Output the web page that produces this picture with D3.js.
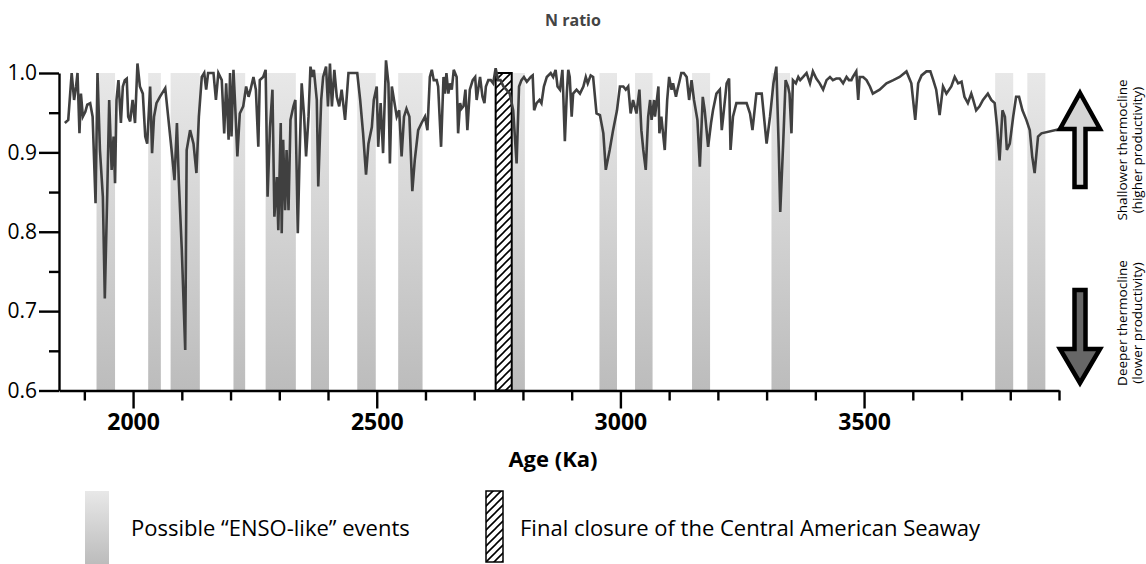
<!DOCTYPE html>
<html>
<head>
<meta charset="utf-8">
<script src="https://cdn.jsdelivr.net/npm/d3@7"></script>
<style>
  body { margin: 0; background: #fff; }
  svg { display: block; font-family: "Open Sans", sans-serif; }
</style>
</head>
<body>
<div id="chart"></div>
<script>
// N ratio record, [age (ka), ratio]
const nRatio = [
  [1860,0.937],[1867,0.941],[1874,1.000],[1879,0.966],[1883,0.983],[1886,1.000],[1890,0.924],[1893,0.974],
  [1897,0.945],[1902,0.951],[1906,0.960],[1912,0.962],[1917,0.945],[1923,0.836],[1927,1.000],[1932,0.903],
  [1938,0.844],[1942,0.716],[1947,0.848],[1951,0.966],[1956,0.878],[1960,0.920],[1963,0.861],[1966,0.966],
  [1970,0.991],[1975,0.937],[1979,0.983],[1983,0.991],[1987,0.993],[1990,0.945],[1994,0.939],[1999,0.966],
  [2004,0.937],[2009,1.012],[2014,0.983],[2020,0.974],[2025,0.920],[2029,0.911],[2035,0.983],[2039,0.899],
  [2043,0.945],[2048,0.962],[2055,0.970],[2066,0.981],[2072,0.945],[2079,0.903],[2085,0.865],[2090,0.937],
  [2094,0.861],[2100,0.777],[2107,0.651],[2110,0.903],[2117,0.928],[2124,0.911],[2130,0.874],[2135,0.945],
  [2141,0.995],[2146,1.000],[2150,0.979],[2154,1.000],[2165,1.000],[2170,0.966],[2175,1.000],[2182,0.991],
  [2187,0.924],[2191,0.987],[2196,0.916],[2199,1.000],[2202,0.920],[2206,1.004],[2209,0.966],[2214,0.895],
  [2219,0.949],[2226,0.958],[2232,0.983],[2237,0.970],[2241,0.979],[2247,0.995],[2252,0.979],[2257,0.907],
  [2260,0.991],[2267,0.995],[2272,1.004],[2276,0.844],[2281,0.932],[2286,0.979],[2290,0.819],[2295,0.869],
  [2298,0.802],[2303,0.937],[2305,0.798],[2308,0.916],[2312,0.827],[2315,0.903],[2319,0.827],[2323,0.941],
  [2329,0.958],[2333,0.966],[2338,0.798],[2342,0.903],[2346,0.987],[2351,0.945],[2355,0.895],[2360,0.945],
  [2364,1.008],[2368,0.995],[2371,1.004],[2377,0.966],[2380,0.857],[2386,0.966],[2390,0.995],[2396,1.008],
  [2400,0.958],[2404,1.012],[2408,0.958],[2413,1.004],[2418,0.970],[2423,0.958],[2428,0.979],[2435,0.941],
  [2442,1.000],[2460,1.000],[2466,0.966],[2472,0.924],[2478,0.872],[2483,0.911],[2490,0.932],[2494,0.966],
  [2500,0.983],[2503,0.907],[2508,0.962],[2513,0.899],[2519,1.016],[2524,0.987],[2527,0.886],[2531,0.983],
  [2541,0.945],[2546,0.953],[2551,0.895],[2556,0.945],[2561,0.955],[2567,0.945],[2573,0.851],[2578,0.890],
  [2585,0.928],[2592,0.937],[2599,0.945],[2604,0.928],[2609,0.995],[2613,1.004],[2617,0.991],[2623,0.991],
  [2626,0.983],[2632,0.907],[2637,0.995],[2640,0.974],[2643,1.000],[2647,0.974],[2650,0.987],[2654,0.979],
  [2658,1.004],[2664,0.995],[2667,0.924],[2671,0.962],[2674,0.955],[2678,0.958],[2682,0.979],[2686,0.928],
  [2691,0.979],[2697,0.991],[2702,0.995],[2705,0.966],[2709,0.983],[2712,0.995],[2717,0.970],[2721,0.962],
  [2724,0.983],[2729,0.991],[2734,0.991],[2739,0.987],[2744,1.006],[2749,0.991],[2754,0.991],[2760,0.983],
  [2766,0.979],[2773,0.974],[2780,0.953],[2787,0.886],[2792,0.983],[2797,0.991],[2802,0.995],[2808,0.989],
  [2816,0.995],[2820,0.997],[2823,0.953],[2828,0.962],[2834,0.966],[2838,0.962],[2843,0.983],[2849,0.995],
  [2857,1.000],[2862,0.995],[2867,1.004],[2871,0.983],[2876,0.979],[2881,1.004],[2886,0.914],[2890,0.974],
  [2893,1.004],[2896,0.995],[2900,0.945],[2903,0.974],[2910,0.979],[2917,0.974],[2924,0.983],[2929,0.995],
  [2933,0.987],[2939,0.997],[2944,0.995],[2951,0.949],[2958,0.947],[2965,0.924],[2970,0.878],[2978,0.903],
  [2985,0.928],[2993,0.953],[2999,0.983],[3006,0.983],[3011,0.979],[3016,0.983],[3021,0.949],[3026,0.966],
  [3033,0.949],[3039,0.979],[3043,0.928],[3047,0.903],[3052,0.878],[3057,0.945],[3061,0.966],[3064,0.941],
  [3069,0.966],[3071,0.945],[3078,0.983],[3080,0.924],[3084,0.945],[3091,0.903],[3096,0.966],[3100,0.995],
  [3105,0.979],[3108,0.987],[3114,0.970],[3117,0.979],[3121,0.989],[3125,1.000],[3130,1.000],[3136,0.995],
  [3141,0.966],[3146,0.991],[3151,0.966],[3158,0.941],[3163,0.882],[3169,0.970],[3173,0.953],[3180,0.907],
  [3186,0.937],[3190,0.953],[3197,0.974],[3204,0.979],[3208,0.928],[3211,0.945],[3218,0.987],[3223,0.993],
  [3226,0.903],[3231,0.945],[3238,0.962],[3245,0.962],[3252,0.962],[3259,0.962],[3266,0.949],[3271,0.928],
  [3279,0.974],[3290,0.974],[3300,0.911],[3307,0.945],[3314,0.987],[3320,1.008],[3325,0.903],[3328,0.825],
  [3334,0.911],[3339,0.991],[3344,0.983],[3347,0.974],[3351,0.924],[3354,0.991],[3360,0.987],[3365,0.995],
  [3369,0.991],[3375,0.995],[3382,1.000],[3389,0.987],[3395,1.002],[3402,0.993],[3409,0.987],[3416,0.979],
  [3423,0.991],[3430,0.995],[3436,0.991],[3443,0.993],[3450,0.993],[3457,0.987],[3464,0.995],[3469,0.991],
  [3474,0.991],[3477,0.995],[3484,1.002],[3488,0.966],[3491,0.995],[3498,0.995],[3505,0.991],[3512,0.983],
  [3518,0.974],[3532,0.979],[3546,0.987],[3560,0.991],[3573,0.995],[3587,1.002],[3597,0.987],[3605,0.941],
  [3611,0.987],[3618,0.997],[3628,1.002],[3636,1.002],[3642,0.991],[3648,0.979],[3655,0.947],[3662,0.983],
  [3669,0.974],[3679,0.983],[3686,0.995],[3693,0.987],[3700,0.989],[3706,0.970],[3713,0.962],[3720,0.974],
  [3724,0.966],[3730,0.953],[3737,0.958],[3744,0.966],[3754,0.974],[3761,0.966],[3768,0.962],[3773,0.932],
  [3778,0.890],[3784,0.953],[3789,0.945],[3793,0.903],[3799,0.911],[3806,0.945],[3812,0.970],[3818,0.970],
  [3825,0.953],[3833,0.941],[3840,0.928],[3845,0.895],[3850,0.874],[3857,0.920],[3864,0.924],[3900,0.929]
];

// possible "ENSO-like" events, [start, end] in ka
const ensoEvents = [
  [1925,1963],[2031,2057],[2077,2137],[2206,2230],[2272,2334],[2365,2402],[2460,2498],
  [2544,2594],[2777,2804],[2957,2993],[3030,3066],[3147,3184],[3310,3348],[3769,3806],[3835,3872]
];
// final closure of the Central American Seaway
const seawayClosure = [2744, 2777];

const xMajorTicks = [2000, 2500, 3000, 3500];
const xMinorTicks = [1900, 2100, 2200, 2300, 2400, 2600, 2700, 2800, 2900, 3100, 3200, 3300, 3400, 3600, 3700, 3800, 3900];
const yMajorTicks = [0.6, 0.7, 0.8, 0.9, 1.0];
const yMinorTicks = [0.65, 0.75, 0.85, 0.95];

const width = 1146, height = 564;

const svg = d3.select("#chart").append("svg")
    .attr("width", width)
    .attr("height", height);

const x = d3.scaleLinear().domain([1848, 3900]).range([59, 1059]);
const y = d3.scaleLinear().domain([0.6, 1.0]).range([390.5, 73]);

const defs = svg.append("defs");

// grey band gradient, light at the top
const grad = defs.append("linearGradient")
    .attr("id", "bandGrad")
    .attr("x1", 0).attr("y1", 0).attr("x2", 0).attr("y2", 1);
grad.append("stop").attr("offset", "0%").attr("stop-color", "#e8e8e8");
grad.append("stop").attr("offset", "100%").attr("stop-color", "#bcbcbc");

// diagonal hatching
const hatch = defs.append("pattern")
    .attr("id", "hatch")
    .attr("patternUnits", "userSpaceOnUse")
    .attr("width", 8).attr("height", 8);
hatch.append("path")
    .attr("d", "M0,8 L8,0 M-2,2 L2,-2 M6,10 L10,6")
    .attr("stroke", "#000")
    .attr("stroke-width", 1.6);

// Bands
svg.append("g").selectAll("rect")
    .data(ensoEvents)
    .join("rect")
    .attr("x", d => x(d[0]))
    .attr("y", y(1.0))
    .attr("width", d => x(d[1]) - x(d[0]))
    .attr("height", y(0.6) - y(1.0))
    .attr("fill", "url(#bandGrad)");

svg.append("rect")
    .attr("x", x(seawayClosure[0]))
    .attr("y", y(1.0))
    .attr("width", x(seawayClosure[1]) - x(seawayClosure[0]))
    .attr("height", y(0.6) - y(1.0))
    .attr("fill", "url(#hatch)")
    .attr("stroke", "#000")
    .attr("stroke-width", 2);

// N ratio line
const line = d3.line()
    .x(d => x(d[0]))
    .y(d => y(d[1]));

svg.append("path")
    .datum(nRatio)
    .attr("d", line)
    .attr("fill", "none")
    .attr("stroke", "#404040")
    .attr("stroke-width", 2.6);

// X axis
const xAxisG = svg.append("g").attr("transform", `translate(0,${y(0.6)})`);
xAxisG.append("g")
    .call(d3.axisBottom(x).tickValues(xMinorTicks).tickSize(10).tickSizeOuter(0).tickFormat(""))
    .call(g => g.select(".domain").remove());
xAxisG.append("g")
    .call(d3.axisBottom(x).tickValues(xMajorTicks).tickSize(18).tickSizeOuter(0).tickFormat(d3.format("d")))
    .call(g => g.selectAll("text")
        .attr("y", 23)
        .attr("font-size", 23)
        .attr("font-weight", "bold")
        .attr("font-family", "'Open Sans', sans-serif")
        .attr("fill", "#000"));
xAxisG.selectAll("line, path").attr("stroke", "#000").attr("stroke-width", 2.4);

// Y axis
const yAxisG = svg.append("g").attr("transform", `translate(${x.range()[0]},0)`);
yAxisG.append("g")
    .call(d3.axisLeft(y).tickValues(yMinorTicks).tickSize(10).tickSizeOuter(0).tickFormat(""))
    .call(g => g.select(".domain").remove());
yAxisG.append("g")
    .call(d3.axisLeft(y).tickValues(yMajorTicks).tickSize(20).tickPadding(2).tickSizeOuter(0).tickFormat(d3.format(".1f")))
    .call(g => g.selectAll("text")
        .attr("font-size", 21)
        .attr("font-family", "'Open Sans', sans-serif")
        .attr("fill", "#000"));
yAxisG.selectAll("line, path").attr("stroke", "#000").attr("stroke-width", 2.4);

// Titles
svg.append("text")
    .attr("x", 573).attr("y", 26)
    .attr("text-anchor", "middle")
    .attr("font-size", 16)
    .attr("font-weight", "bold")
    .attr("fill", "#444")
    .text("N ratio");

svg.append("text")
    .attr("x", 553).attr("y", 467)
    .attr("text-anchor", "middle")
    .attr("font-size", 22)
    .attr("font-weight", "bold")
    .attr("fill", "#000")
    .text("Age (Ka)");

// Thermocline arrows
const arrows = svg.append("g")
    .attr("stroke", "#000")
    .attr("stroke-width", 4.5)
    .attr("stroke-linejoin", "miter");
arrows.append("path")
    .attr("d", "M1080,93 L1100,129 L1085.5,129 L1085.5,187 L1074.5,187 L1074.5,129 L1060,129 Z")
    .attr("fill", "#d4d4d4");
arrows.append("path")
    .attr("d", "M1074.5,290 L1085.5,290 L1085.5,349 L1100,349 L1080,383 L1060,349 L1074.5,349 Z")
    .attr("fill", "#666");

function sideLabel(cy, lines) {
    const t = svg.append("text")
        .attr("transform", `translate(1127,${cy}) rotate(-90)`)
        .attr("text-anchor", "middle")
        .attr("font-size", 13.5)
        .attr("fill", "#000");
    lines.forEach((s, i) => t.append("tspan").attr("x", 0).attr("y", i * 15).text(s));
}
sideLabel(150, ["Shallower thermocline", "(higher productivity)"]);
sideLabel(323, ["Deeper thermocline", "(lower productivity)"]);

// Legend
svg.append("rect")
    .attr("x", 85).attr("y", 491).attr("width", 24).attr("height", 73)
    .attr("fill", "url(#bandGrad)");
svg.append("text")
    .attr("x", 131).attr("y", 536)
    .attr("font-size", 22)
    .attr("fill", "#000")
    .text("Possible \u201CENSO-like\u201D events");

svg.append("rect")
    .attr("x", 486).attr("y", 491).attr("width", 17).attr("height", 71)
    .attr("fill", "url(#hatch)")
    .attr("stroke", "#000")
    .attr("stroke-width", 1.5);
svg.append("text")
    .attr("x", 520).attr("y", 536)
    .attr("font-size", 22)
    .attr("fill", "#000")
    .text("Final closure of the Central American Seaway");
</script>
</body>
</html>
